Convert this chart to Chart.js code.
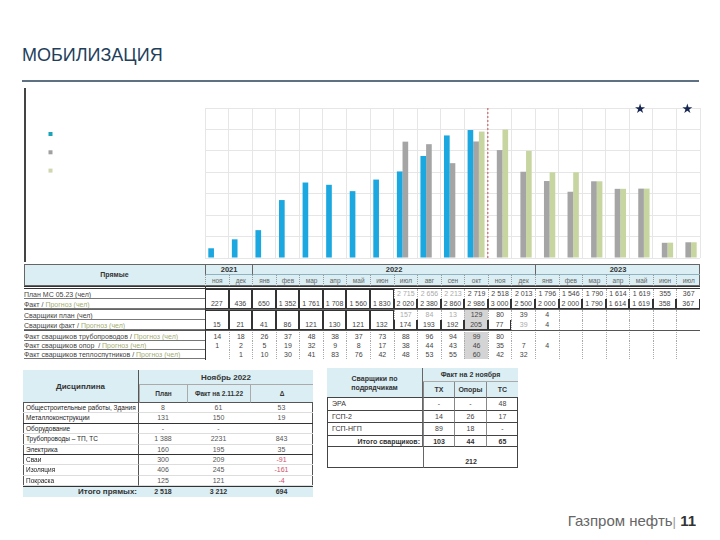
<!DOCTYPE html>
<html lang="ru">
<head>
<meta charset="utf-8">
<script src="https://cdn.jsdelivr.net/npm/chart.js@4"></script>
<style>
  * { box-sizing: border-box; }
  body { margin: 0; width: 720px; height: 540px; background: #fff; position: relative; overflow: hidden;
         font-family: "Liberation Sans", Arial, sans-serif; color: #333; }
  .c { position: absolute; text-align: center; white-space: nowrap; overflow: hidden; }
  #chart { position: absolute; left: 25px; top: 88px; }
</style>
</head>
<body>
<canvas id="chart" width="680" height="174"></canvas>
<script>
// months along the x axis (ноя 2021 .. июл 2023)
const months = ['ноя','дек','янв','фев','мар','апр','май','июн','июл','авг','сен','окт',
                'ноя','дек','янв','фев','мар','апр','май','июн','июл'];
const yearLabels = ['2021', '2022', '2023'];
const yearSpans = [2, 12, 7];

// people on site
const factPeople = [227, 436, 650, 1352, 1761, 1708, 1560, 1830, 2020, 2380, 2860, 2986,
                    null, null, null, null, null, null, null, null, null];
const planMC = [null, null, null, null, null, null, null, null, 2715, 2656, 2213, 2719,
                2518, 2013, 1796, 1546, 1790, 1614, 1619, 355, 367];
const forecast = [null, null, null, null, null, null, null, null, null, null, null, 2950,
                  3000, 2500, 2000, 2000, 1790, 1614, 1619, 358, 367];
const starMonths = [18, 20];
const todayAfter = 11;

// welders
const weldPlan = [null, null, null, null, null, null, null, null, 157, 84, 13, 129, 80, 39, 4];
const weldFact = [15, 21, 41, 86, 121, 130, 121, 132, 174, 193, 192, 205, 77, 39, 4];
const weldPipe = [14, 18, 26, 37, 48, 38, 37, 73, 88, 96, 94, 99, 80];
const weldSupport = [1, 2, 5, 19, 32, 9, 8, 17, 38, 44, 43, 46, 35, 7, 4];
const weldHeat = [null, 1, 10, 30, 41, 83, 76, 42, 48, 53, 55, 60, 42, 32];

// discipline table (November 2022)
const disciplines = ['Общестроительные работы, Здания', 'Металлоконструкции', 'Оборудование',
                     'Трубопроводы – ТП, ТС', 'Электрика', 'Сваи', 'Изоляция', 'Покраска'];
const discPlan = ['8', '131', '-', '1 388', '160', '300', '406', '125'];
const discFact = ['61', '150', '-', '2231', '195', '209', '245', '121'];
const discDelta = [53, 19, null, 843, 35, -91, -161, -4];
const discTotal = ['2 518', '3 212', '694'];

// welders by contractor
const contractors = ['ЭРА', 'ГСП-2', 'ГСП-НГП'];
const contrTX = ['-', '14', '89'];
const contrSupports = ['-', '26', '18'];
const contrTS = ['48', '17', '-'];
const contrTotal = ['103', '44', '65'];
const weldersAll = '212';

const COL = 495 / 21;
const colX = i => 205 + i * COL;
const fmt = v => v == null ? '' : (Math.abs(v) >= 1000 ? String(v).replace(/\B(?=(\d{3})+(?!\d))/g, ' ') : String(v));

function box(x, y, w, h, css, html) {
    const d = document.createElement('div');
    d.className = 'c';
    d.style.cssText = `left:${x}px;top:${y}px;width:${w}px;height:${h}px;line-height:${h}px;` + (css || '');
    if (html != null) d.innerHTML = html;
    document.body.appendChild(d);
    return d;
}

// title, rule, footer
box(22, 42, 300, 26, 'text-align:left;font-size:18px;color:#1f3f5c;', 'МОБИЛИЗАЦИЯ');
box(22, 80, 677, 2, 'background:#5d7183;');
box(430, 511, 266, 20, 'text-align:right;font-size:15px;color:#666;',
    'Газпром нефть<span style="color:#999;font-size:13px">|</span> <b style="color:#333">11</b>');
box(24, 88, 1.5, 174, 'background:#444;');

// chart
const decor = {
    id: 'decor',
    afterDatasetsDraw(chart) {
        const { ctx, chartArea, scales } = chart;
        ctx.save();
        // dashed "today" line
        const xs = (scales.x.getPixelForValue(todayAfter) + scales.x.getPixelForValue(todayAfter + 1)) / 2;
        ctx.strokeStyle = '#c0504d';
        ctx.lineWidth = 1;
        ctx.setLineDash([2, 2]);
        ctx.beginPath();
        ctx.moveTo(xs, chartArea.top);
        ctx.lineTo(xs, chartArea.bottom);
        ctx.stroke();
        ctx.setLineDash([]);
        // stars
        ctx.fillStyle = '#15254f';
        ctx.font = '13px "DejaVu Sans"';
        ctx.textAlign = 'center';
        ctx.textBaseline = 'middle';
        starMonths.forEach(i => ctx.fillText('★', scales.x.getPixelForValue(i) - 1, chartArea.top + 2));
        // legend markers without text
        const marks = ['#1ba3b8', '#a0a0a0', '#cfd6b0'];
        marks.forEach((c, k) => { ctx.fillStyle = c; ctx.fillRect(23.5, 44 + k * 18.3, 4, 4); });
        ctx.restore();
    }
};

new Chart(document.getElementById('chart'), {
    type: 'bar',
    data: {
        labels: months,
        datasets: [
            { label: 'Факт', data: factPeople, backgroundColor: '#1ba7df' },
            { label: 'План МС 05.23', data: planMC, backgroundColor: '#a5a5a5' },
            { label: 'Прогноз', data: forecast, backgroundColor: '#c7d6a0' }
        ]
    },
    options: {
        responsive: false,
        animation: false,
        devicePixelRatio: 1,
        datasets: { bar: { categoryPercentage: 0.72, barPercentage: 1 } },
        layout: { padding: { left: 180, right: 5, top: 20, bottom: 4 } },
        plugins: { legend: { display: false }, tooltip: { enabled: false } },
        scales: {
            x: { grid: { color: '#e6e6e6', drawTicks: false, offset: true }, border: { display: false }, ticks: { display: false } },
            y: { min: 0, max: 3500, ticks: { display: false, stepSize: 500 },
                 grid: { color: '#e6e6e6', drawTicks: false }, border: { display: false } }
        }
    },
    plugins: [decor]
});

// ---- top table "Прямые" ----
box(24, 264, 676, 22, 'background:#daeef3;border:1px solid #666;');
box(24, 264, 181, 22, 'font-weight:bold;font-size:7px;', 'Прямые');
let start = 0;
yearLabels.forEach((y, k) => {
    box(colX(start), 264, yearSpans[k] * COL, 11, 'font-weight:bold;font-size:7.5px;border-left:1px solid #666;border-bottom:1px solid #8fb3c0;', y);
    start += yearSpans[k];
});
months.forEach((m, i) => box(colX(i), 275, COL, 11, 'font-size:6.5px;color:#666;border-left:1px dotted #999;', m));
box(24, 286, 676, 1, 'background:#333;');

const green = '<span style="color:#a3ad72">Прогноз (чел)</span>';
const rows = [
    { y: 289, h: 10, label: 'План МС 05.23 (чел)', vals: planMC, boxed: 8 },
    { y: 299, h: 10, label: 'Факт / ' + green, vals: factPeople.map((v, i) => v ?? forecast[i]), boxed: 21 },
    { y: 310, h: 10, label: 'Сварщики план (чел)', vals: weldPlan, boxed: 8 },
    { y: 320, h: 10, label: 'Сварщики факт / ' + green, vals: weldFact, boxed: 13 },
    { y: 332, h: 9, label: 'Факт сварщиков трубопроводов / ' + green, vals: weldPipe, boxed: 0 },
    { y: 341, h: 9, label: 'Факт сварщиков опор&nbsp; / ' + green, vals: weldSupport, boxed: 0 },
    { y: 350, h: 9, label: 'Факт сварщиков теплоспутников / ' + green, vals: weldHeat, boxed: 0 }
];
rows.forEach((r, ri) => {
    box(24, r.y, 181, r.h, `text-align:left;font-size:7px;color:#444;border-bottom:1px solid #777;line-height:${r.h + 1}px;`, r.label);
    months.forEach((m, i) => {
        const v = r.vals[i];
        const shade = ri >= 2 && i === todayAfter ? 'background:#d4d4d4;' : '';
        const light = (ri === 0 && i < todayAfter) || (ri === 2 && i < todayAfter) || (ri === 3 && i === 13) ? 'color:#aaa;' : 'color:#444;';
        let border = 'border-left:1px dotted #aaa;';
        if (i < r.boxed) border = ri % 2 === 1 ? 'border:1px solid #333;border-top:none;' : 'border:1px solid #333;border-bottom:none;';
        box(colX(i), r.y, COL, r.h, shade + light + border + 'font-size:7px;', fmt(v));
    });
});
box(24, 288, 676, 1, 'background:#333;');
box(24, 309, 676, 1, 'background:#666;');
box(24, 330, 676, 1, 'background:#555;');
box(205, 286, 1, 74, 'background:#333;');

// ---- discipline table ----
box(23, 370, 290, 127, 'border:1px solid #555;');
box(23, 370, 116, 33, 'background:#daeef3;font-weight:bold;font-size:8px;border-right:1px solid #555;border-bottom:1px solid #555;', 'Дисциплина');
box(139, 370, 174, 15, 'background:#daeef3;font-weight:bold;font-size:8px;border-bottom:1px solid #aaa;', 'Ноябрь 2022');
const discHeads = ['План', 'Факт на 2.11.22', 'Δ'];
const discX = [139, 187, 250, 313];
discHeads.forEach((t, k) => box(discX[k], 385, discX[k + 1] - discX[k], 18,
    'background:#daeef3;font-weight:bold;font-size:6.5px;border-left:1px solid #aaa;border-bottom:1px solid #555;', t));
disciplines.forEach((d, i) => {
    const y = 403 + i * 10.4;
    const strong = i === 1 || i === 4 ? 'border-bottom:1px solid #333;' : 'border-bottom:1px solid #ddd;';
    box(23, y, 116, 10.4, 'text-align:left;padding-left:3px;font-size:6.5px;color:#222;border-right:1px solid #555;' + strong, d);
    box(139, y, 48, 10.4, 'font-size:7px;color:#555;' + strong, discPlan[i]);
    box(187, y, 63, 10.4, 'font-size:7px;color:#555;' + strong, discFact[i]);
    box(250, y, 63, 10.4, 'font-size:7px;' + (discDelta[i] < 0 ? 'color:#d0506a;' : 'color:#555;') + strong, fmt(discDelta[i]));
});
box(23, 486, 290, 11, 'background:#daeef3;border-top:1px solid #333;');
box(23, 486, 116, 11, 'text-align:right;padding-right:2px;font-weight:bold;font-size:8px;', 'Итого прямых:');
discTotal.forEach((t, k) => box(discX[k], 486, discX[k + 1] - discX[k], 11, 'font-weight:bold;font-size:7px;', t));

// ---- welders by contractor ----
box(327, 368, 191, 100, 'border:1px solid #444;');
box(327, 368, 96, 30, 'background:#daeef3;font-weight:bold;font-size:7px;line-height:9px;padding-top:6px;border-right:1px solid #666;border-bottom:1px solid #444;', 'Сварщики по<br>подрядчикам');
box(423, 368, 95, 14, 'background:#daeef3;font-weight:bold;font-size:7px;border-bottom:1px solid #aaa;', 'Факт на 2 ноября');
const cX = [423, 454, 486, 518];
['ТХ', 'Опоры', 'ТС'].forEach((t, k) => box(cX[k], 382, cX[k + 1] - cX[k], 16,
    'background:#daeef3;font-weight:bold;font-size:7px;border-left:1px solid #888;border-bottom:1px solid #444;', t));
contractors.forEach((n, i) => {
    const y = 398 + i * 12.7;
    const line = 'border-bottom:1px solid #444;';
    box(327, y, 96, 12.7, 'text-align:left;padding-left:5px;font-size:7px;border-right:1px solid #666;' + line, n);
    [contrTX, contrSupports, contrTS].forEach((col, k) =>
        box(cX[k], y, cX[k + 1] - cX[k], 12.7, 'font-size:7px;color:#444;border-left:1px solid #888;' + line, col[i]));
});
box(327, 436, 96, 11, 'text-align:right;padding-right:2px;font-weight:bold;font-size:7px;border-right:1px solid #666;border-bottom:1px solid #444;', 'Итого сварщиков:');
contrTotal.forEach((t, k) => box(cX[k], 436, cX[k + 1] - cX[k], 11, 'font-weight:bold;font-size:7px;border-left:1px solid #888;border-bottom:1px solid #444;', t));
box(423, 447, 95, 21, 'font-weight:bold;font-size:7px;line-height:30px;border-left:1px solid #666;', weldersAll);
</script>
</body>
</html>
